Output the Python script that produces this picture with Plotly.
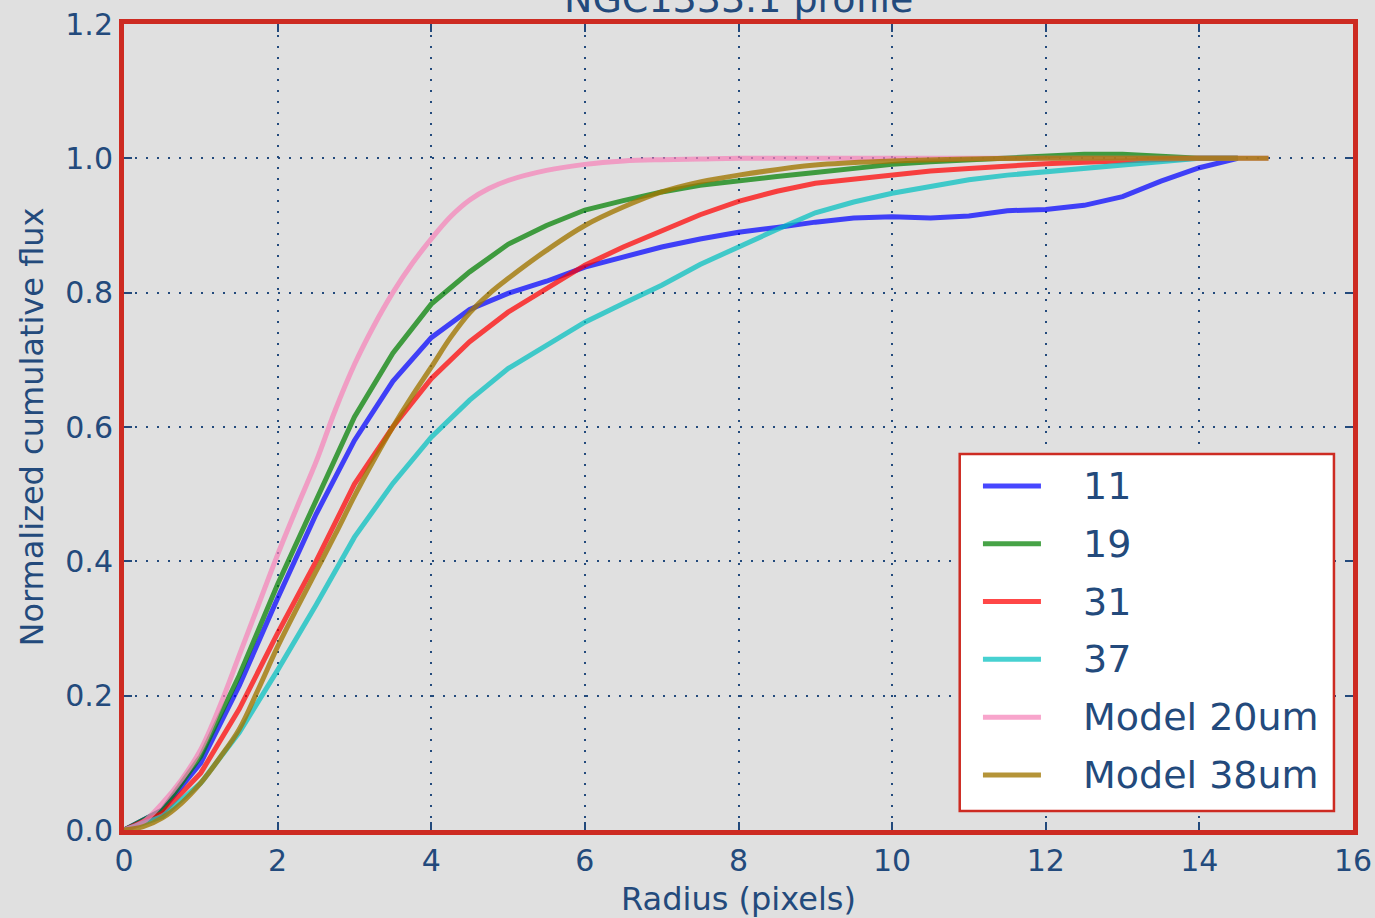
import plotly.graph_objects as go

# Radius grid (pixels) for the measured profiles
radius = [0.0, 0.5, 1.0, 1.5, 2.0, 2.5, 3.0, 3.5, 4.0, 4.5, 5.0, 5.5, 6.0, 6.5, 7.0,
          7.5, 8.0, 8.5, 9.0, 9.5, 10.0, 10.5, 11.0, 11.5, 12.0, 12.5, 13.0, 13.5, 14.0, 14.5]

flux_11 = [0.0, 0.03, 0.10, 0.215, 0.345, 0.47, 0.58, 0.668, 0.733, 0.775, 0.799, 0.817,
           0.838, 0.853, 0.868, 0.880, 0.890, 0.897, 0.905, 0.911, 0.913, 0.911, 0.914,
           0.922, 0.924, 0.930, 0.943, 0.966, 0.986, 1.0]
flux_19 = [0.0, 0.03, 0.11, 0.23, 0.366, 0.49, 0.615, 0.71, 0.783, 0.831, 0.872, 0.900,
           0.923, 0.937, 0.950, 0.960, 0.967, 0.973, 0.979, 0.985, 0.991, 0.995, 0.998,
           1.001, 1.003, 1.006, 1.006, 1.003, 1.0, 1.0]
flux_31 = [0.0, 0.025, 0.085, 0.18, 0.293, 0.40, 0.515, 0.60, 0.672, 0.727, 0.771, 0.806,
           0.841, 0.868, 0.893, 0.916, 0.936, 0.951, 0.963, 0.969, 0.975, 0.981, 0.985,
           0.989, 0.992, 0.994, 0.996, 0.998, 1.0, 1.0]
flux_37 = [0.0, 0.02, 0.07, 0.145, 0.238, 0.335, 0.436, 0.516, 0.585, 0.640, 0.687, 0.722,
           0.756, 0.784, 0.811, 0.842, 0.869, 0.894, 0.919, 0.935, 0.948, 0.958, 0.968,
           0.975, 0.980, 0.985, 0.990, 0.995, 1.0, 1.0]

# Model profiles, sampled out to the edge of the model grid
model_radius = [0.0, 0.25, 0.5, 0.75, 1.0, 1.25, 1.5, 1.75, 2.0, 2.25, 2.5, 2.75, 3.0, 3.25,
                3.5, 3.75, 4.0, 4.25, 4.5, 4.75, 5.0, 5.5, 6.0, 6.5, 7.0, 7.5, 8.0, 9.0,
                10.0, 11.0, 12.0, 13.0, 14.0, 14.9]
model_20um = [0.0, 0.012, 0.04, 0.075, 0.12, 0.185, 0.26, 0.335, 0.41, 0.48, 0.548, 0.625,
              0.693, 0.75, 0.80, 0.843, 0.880, 0.913, 0.938, 0.955, 0.967, 0.982, 0.991,
              0.996, 0.998, 0.999, 1.0, 1.0, 1.0, 1.0, 1.0, 1.0, 1.0, 1.0]
model_38um = [0.0, 0.005, 0.018, 0.04, 0.07, 0.108, 0.15, 0.21, 0.273, 0.33, 0.385, 0.44,
              0.497, 0.55, 0.60, 0.646, 0.689, 0.733, 0.770, 0.798, 0.821, 0.863, 0.900,
              0.9275, 0.950, 0.965, 0.975, 0.990, 0.996, 0.999, 1.0, 1.0, 1.0, 1.0]

x_ticks = [0, 2, 4, 6, 8, 10, 12, 14, 16]
y_ticks = [0.0, 0.2, 0.4, 0.6, 0.8, 1.0, 1.2]

TEXT = "#234a7c"
SPINE = "#cd2b22"
BG = "#e0e0e0"
FONT = "DejaVu Sans"

series = [
    ("11", radius, flux_11, "rgba(0,0,255,0.72)", "linear"),
    ("19", radius, flux_19, "rgba(0,128,0,0.72)", "linear"),
    ("31", radius, flux_31, "rgba(255,0,0,0.72)", "linear"),
    ("37", radius, flux_37, "rgba(0,191,191,0.72)", "linear"),
    ("Model 20um", model_radius, model_20um, "rgba(245,130,185,0.72)", "spline"),
    ("Model 38um", model_radius, model_38um, "rgba(160,118,0,0.78)", "spline"),
]

fig = go.Figure()
for name, xs, ys, color, shape in series:
    fig.add_trace(go.Scatter(
        x=xs, y=ys, mode="lines", name=name, showlegend=False,
        line=dict(color=color, width=5, shape=shape, smoothing=1.0),
    ))

axis_common = dict(
    showline=True, linecolor=SPINE, linewidth=5, mirror="allticks",
    ticks="inside", ticklen=8, tickwidth=1.5, tickcolor=TEXT,
    showgrid=True, gridcolor=TEXT, gridwidth=2, griddash="2px,9px",
    zeroline=False, layer="above traces",
    tickfont=dict(family=FONT, size=30, color=TEXT),
)

fig.update_xaxes(range=[0, 16], tickvals=x_ticks, ticktext=[str(v) for v in x_ticks],
                 title=dict(text="Radius (pixels)", font=dict(family=FONT, size=32, color=TEXT),
                            standoff=14),
                 **axis_common)
fig.update_yaxes(range=[0, 1.2], tickvals=y_ticks, ticktext=[f"{v:.1f}" for v in y_ticks],
                 title=dict(text="Normalized cumulative flux",
                            font=dict(family=FONT, size=32, color=TEXT), standoff=14),
                 **axis_common)

fig.add_annotation(
    text="NGC1333.1 profile", xref="paper", yref="paper", x=0.5, y=1,
    xanchor="center", yanchor="middle", yshift=25, showarrow=False,
    font=dict(family=FONT, size=38, color=TEXT),
)

# Legend box in the lower right, one swatch + label per series
box_x0, box_x1 = 0.680, 0.9845
box_y0, box_y1 = 0.0236, 0.4665
swatch_x0, swatch_x1 = 0.6989, 0.7461
label_x = 0.7790
first_row_y = 0.4268
row_step = 0.0717

shapes = [dict(type="rect", xref="paper", yref="paper",
               x0=box_x0, x1=box_x1, y0=box_y0, y1=box_y1,
               fillcolor="white", line=dict(color=SPINE, width=2.5), layer="above")]
annotations = []
for i, (name, _, _, color, _) in enumerate(series):
    yy = first_row_y - i * row_step
    shapes.append(dict(type="line", xref="paper", yref="paper",
                       x0=swatch_x0, x1=swatch_x1, y0=yy, y1=yy,
                       line=dict(color=color, width=5), layer="above"))
    annotations.append(dict(text=name, xref="paper", yref="paper", x=label_x, y=yy,
                            xanchor="left", yanchor="middle", showarrow=False,
                            font=dict(family=FONT, size=38, color=TEXT)))

for a in annotations:
    fig.add_annotation(**a)

fig.update_layout(
    width=1375, height=918,
    margin=dict(l=124, r=22, t=24, b=88, autoexpand=False),
    paper_bgcolor=BG, plot_bgcolor=BG,
    font=dict(family=FONT, color=TEXT),
    showlegend=False,
    shapes=shapes,
)

fig.write_html("out.html")
